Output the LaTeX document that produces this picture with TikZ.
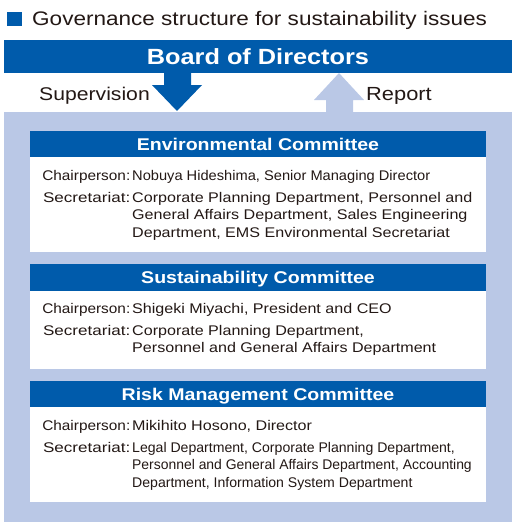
\documentclass[tikz,border=0pt]{standalone}
\usepackage{graphicx}
\usepackage{fontspec}
\setmainfont{Liberation Sans}[FakeStretch=1.15]
\definecolor{dblue}{HTML}{005BAB}
\definecolor{lblue}{HTML}{BAC8E6}
\definecolor{ink}{HTML}{231815}
\newcommand{\sqz}[2]{\scalebox{#1}[1]{#2}}
\newcommand{\chairlab}{\sqz{0.955}{Chairperson:}}
\newcommand{\seclab}{\sqz{1.06}{Secretariat:}}
\tikzset{
  body/.style={inner sep=0pt, text=ink, font=\fontsize{14}{17}\selectfont},
  lab/.style={body, anchor=base east},
  val/.style={body, anchor=base west},
  hdrtext/.style={inner sep=0pt, text=white, font=\fontsize{17}{20}\selectfont\bfseries, anchor=base},
  big/.style={inner sep=0pt, text=ink, font=\fontsize{19}{22}\selectfont},
}
\begin{document}
\begin{tikzpicture}[x=1pt,y=-1pt]
\useasboundingbox (0,0) rectangle (519,531);
% title
\fill[dblue] (7,12) rectangle (22,26);
\node[big, anchor=base west, font=\fontsize{19.6}{22}\selectfont] (title) at (32,25) {Governance structure for sustainability issues};
% board
\node[fill=dblue, minimum width=508pt, minimum height=33pt, inner sep=0pt, anchor=north west] (board) at (4,40) {};
\node[inner sep=0pt, text=white, font=\fontsize{22}{26}\selectfont\bfseries, anchor=base] (boardtext) at (258,64) {Board of Directors};
% panel
\node[fill=lblue, minimum width=508pt, minimum height=410pt, inner sep=0pt, anchor=north west] (panel) at (4,112) {};
% arrows
\fill[dblue] (164,73) -- (191,73) -- (191,85) -- (202,85) -- (177,111) -- (152,85) -- (164,85) -- cycle;
\fill[lblue] (339,73) -- (364,100) -- (353,100) -- (353,113) -- (326,113) -- (326,100) -- (314,100) -- cycle;
\node[big, anchor=base east, font=\fontsize{18.4}{22}\selectfont] (sup) at (150,100) {Supervision};
\node[big, anchor=base west] (rep) at (366,100) {Report};
% Environmental committee
\fill[white] (30,131) rectangle (486,252);
\fill[dblue] (30,131) rectangle (486,157);
\node[hdrtext] (envh) at (258,150) {Environmental Committee};
\node[lab] (envl1) at (130.5,180) {\chairlab};
\node[val] (envv1) at (132,180) {\sqz{0.91}{Nobuya Hideshima, Senior Managing Director}};
\node[lab] (envl2) at (130.5,202) {\seclab};
\node[val] (envv2) at (132,202) {Corporate Planning Department, Personnel and};
\node[val] (envv3) at (132,219.5) {General Affairs Department, Sales Engineering};
\node[val] (envv4) at (132,237) {Department, EMS Environmental Secretariat};
% Sustainability committee
\fill[white] (30,264) rectangle (486,369);
\fill[dblue] (30,264) rectangle (486,291);
\node[hdrtext] (susth) at (258,283) {Sustainability Committee};
\node[lab] (sustl1) at (130.5,313) {\chairlab};
\node[val] (sustv1) at (132,313) {Shigeki Miyachi, President and CEO};
\node[lab] (sustl2) at (130.5,335) {\seclab};
\node[val] (sustv2) at (132,335) {Corporate Planning Department,};
\node[val] (sustv3) at (132,352.5) {Personnel and General Affairs Department};
% Risk committee
\fill[white] (30,381) rectangle (486,502);
\fill[dblue] (30,381) rectangle (486,407);
\node[hdrtext] (riskh) at (258,400) {Risk Management Committee};
\node[lab] (riskl1) at (130.5,430) {\chairlab};
\node[val] (riskv1) at (132,430) {Mikihito Hosono, Director};
\node[lab] (riskl2) at (130.5,452) {\seclab};
\node[val] (riskv2) at (132,452) {\sqz{0.875}{Legal Department, Corporate Planning Department,}};
\node[val] (riskv3) at (132,469.5) {\sqz{0.865}{Personnel and General Affairs Department, Accounting}};
\node[val] (riskv4) at (132,487) {\sqz{0.875}{Department, Information System Department}};
\end{tikzpicture}
\end{document}
